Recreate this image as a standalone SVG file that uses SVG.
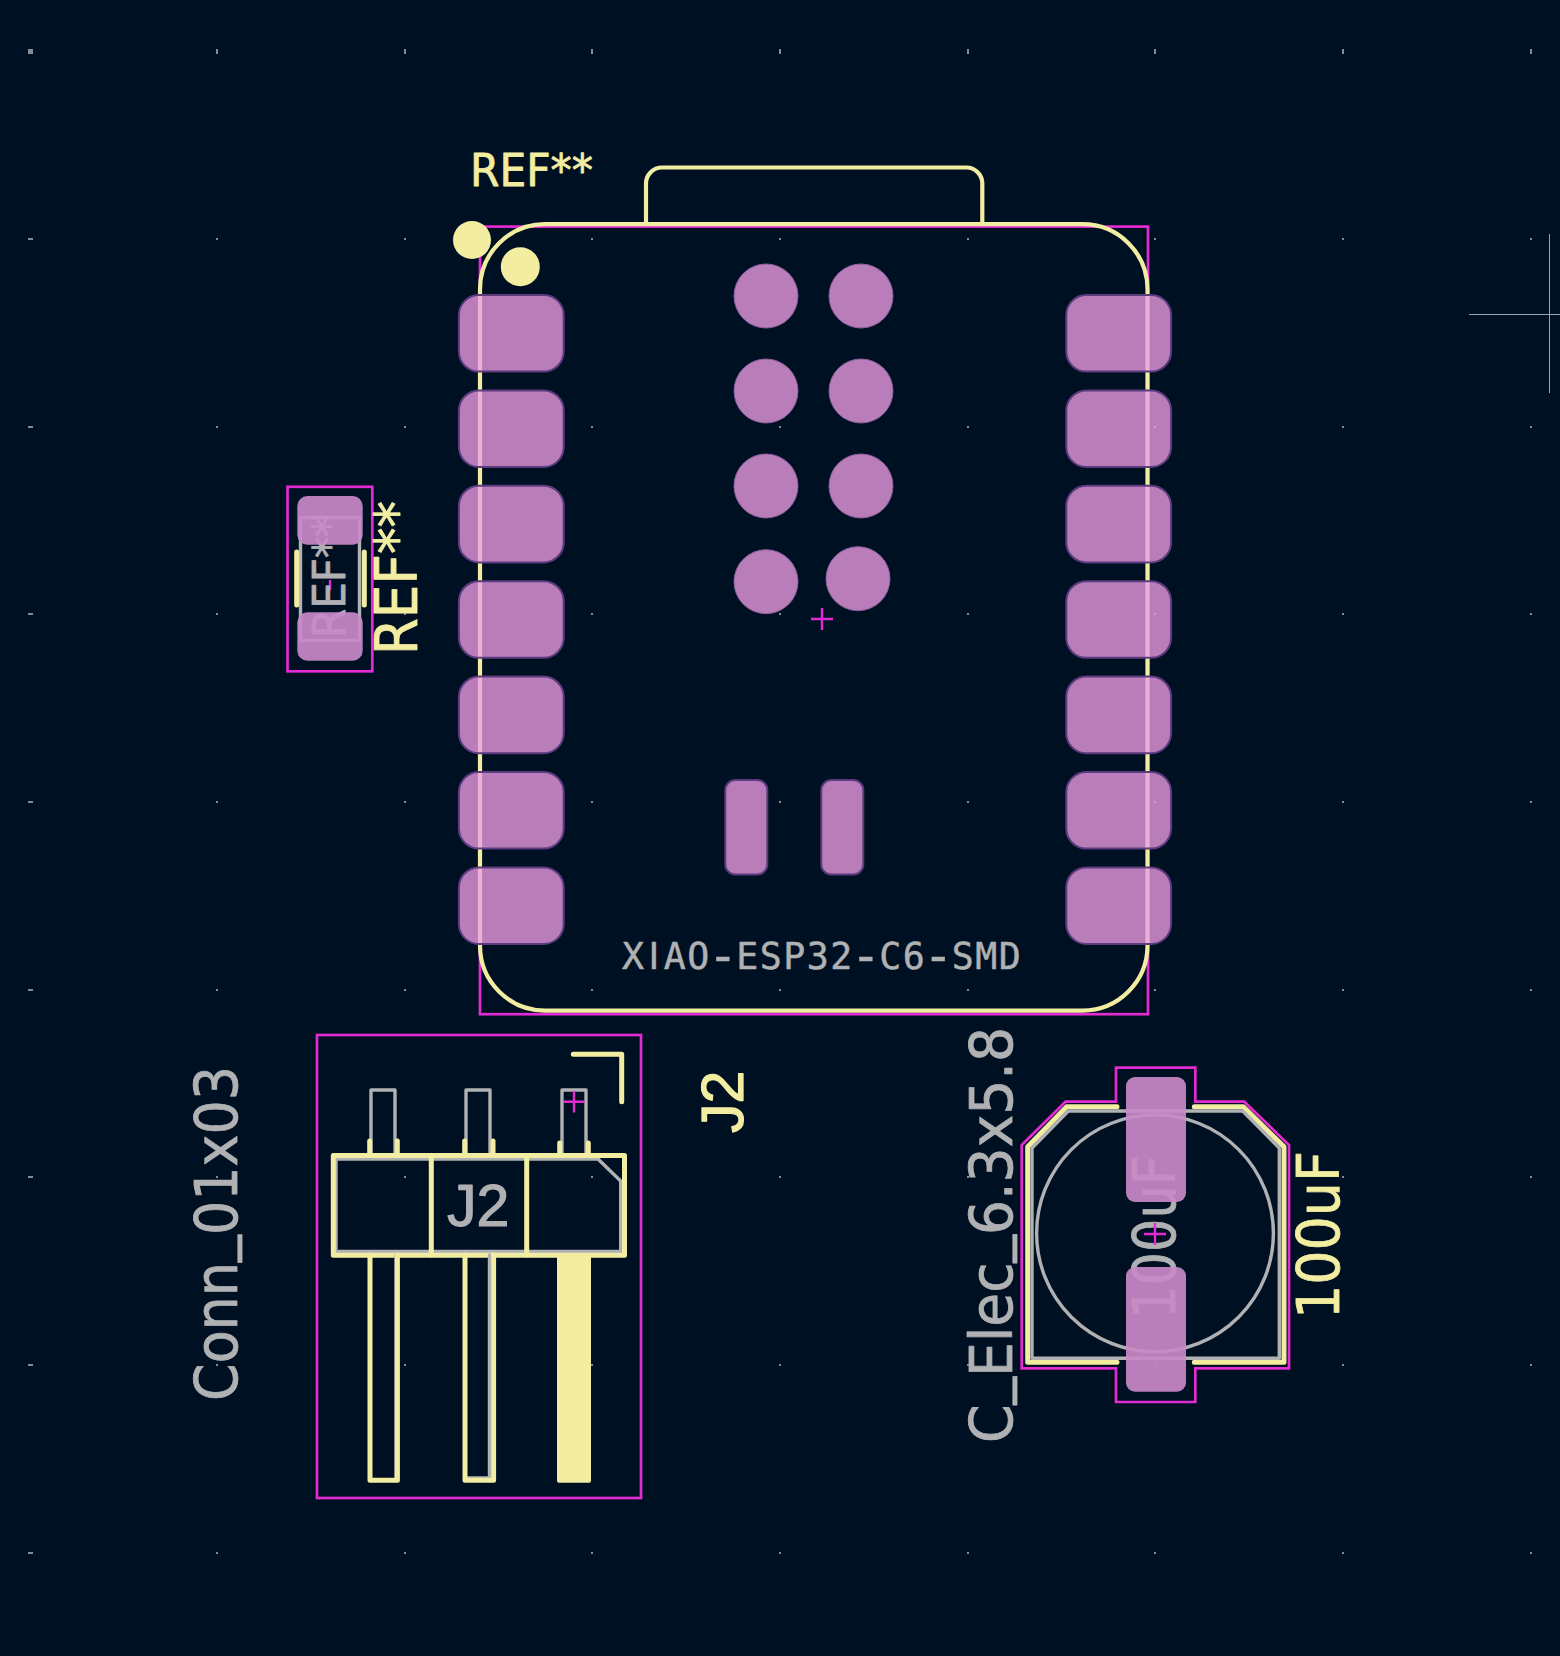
<svg xmlns="http://www.w3.org/2000/svg" width="1560" height="1656" viewBox="0 0 1560 1656">
<style>
.bg{fill:#001023}
.d{fill:#848b95}
.ctyd{fill:none;stroke:#e22bd2;stroke-width:2.7}
.silk{fill:none;stroke:#f2eda1;stroke-width:5;stroke-linecap:round;stroke-linejoin:round}
.fine{stroke-width:4.2}
.fab{fill:none;stroke:#b0b1b3;stroke-width:3.4;stroke-linecap:round;stroke-linejoin:round}
.pad{fill:#ed9ee6;fill-opacity:.78}
.padT{fill:#c989c8;fill-opacity:.92}
.edge{stroke:#5c3b7f;stroke-width:2}
.tpad{stroke:#8a5f9c;stroke-width:1}
.cross{fill:none;stroke:#e22bd2;stroke-width:2.4}
.guide{fill:none;stroke:#9aa3b0;stroke-width:1}
text{font-family:"DejaVu Sans",sans-serif;stroke-linejoin:round;stroke-width:.8}
.ty{fill:#f2eda1;stroke:#f2eda1}
.tg{fill:#b0b1b3;stroke:#b0b1b3}
.lib{font-family:"Liberation Sans",sans-serif;stroke-width:1.2}
</style>
<defs>
<rect id="padL" class="pad edge" x="-.4" y="-.3" width="104.800" height="76.600" rx="20"/>
<rect id="padS" class="pad edge" width="42" height="94.5" rx="10"/>
</defs>
<rect class="bg" width="1560" height="1656"/>
<g id="grid">
<path class="d" d="M28 49h5v5h-5zM216 49h2v5h-2zM404 49h2v5h-2zM591 49h2v5h-2zM779 49h2v5h-2zM967 49h2v5h-2zM1154 49h2v5h-2zM1342 49h2v5h-2zM1530 49h2v5h-2z"/>
<path class="d" d="M28 238h5v2h-5zM28 426h5v2h-5zM28 613h5v2h-5zM28 801h5v2h-5zM28 989h5v2h-5zM28 1176h5v2h-5zM28 1364h5v2h-5zM28 1552h5v2h-5z"/>
<path id="gridrow" class="d" d="M216 238h2v2h-2zM404 238h2v2h-2zM591 238h2v2h-2zM779 238h2v2h-2zM967 238h2v2h-2zM1154 238h2v2h-2zM1342 238h2v2h-2zM1530 238h2v2h-2z"/>
<use href="#gridrow" y="188"/><use href="#gridrow" y="375"/><use href="#gridrow" y="563"/><use href="#gridrow" y="751"/><use href="#gridrow" y="938"/><use href="#gridrow" y="1126"/><use href="#gridrow" y="1314"/>
</g>
<g id="cursor"><path class="guide" d="M1469 314.5H1560M1549.5 234V393"/></g>

<g id="U1">
<rect class="ctyd" x="480" y="226.6" width="668" height="787.6"/>
<rect class="silk fine" x="480" y="224.2" width="667.5" height="786.4" rx="65" ry="65"/>
<path class="silk fine" d="M646 224V183.500a16 16 0 0 1 16-16H966.300a16 16 0 0 1 16 16V224"/>
<circle cx="472" cy="240" r="19" fill="#f2eda1"/>
<circle cx="520.300" cy="266.700" r="19.500" fill="#f2eda1"/>
<text class="ty" transform="translate(470,185.700)" font-size="45" textLength="123" lengthAdjust="spacingAndGlyphs">REF**</text>
<text class="tg" x="622" y="969.300" font-size="36.500" letter-spacing="1.500" style="font-family:'DejaVu Sans Mono',monospace;stroke-width:.5">X<tspan dx="3" style="font-family:'DejaVu Sans',sans-serif">I</tspan><tspan dx="3">AO</tspan><tspan font-size="50" dx="-3" dy="3.500">-</tspan><tspan dx="-3" dy="-3.500">ESP32</tspan><tspan font-size="50" dx="-3" dy="3.500">-</tspan><tspan dx="-3" dy="-3.500">C6</tspan><tspan font-size="50" dx="-3" dy="3.500">-</tspan><tspan dx="-3" dy="-3.500">SMD</tspan></text>
<g id="U1-pads-left">
<use href="#padL" x="459.300" y="295.300"/><use href="#padL" x="459.300" y="390.700"/><use href="#padL" x="459.300" y="486.100"/><use href="#padL" x="459.300" y="581.500"/><use href="#padL" x="459.300" y="676.900"/><use href="#padL" x="459.300" y="772.300"/><use href="#padL" x="459.300" y="867.700"/>
</g>
<g id="U1-pads-right">
<use href="#padL" x="1066.700" y="295.300"/><use href="#padL" x="1066.700" y="390.700"/><use href="#padL" x="1066.700" y="486.100"/><use href="#padL" x="1066.700" y="581.500"/><use href="#padL" x="1066.700" y="676.900"/><use href="#padL" x="1066.700" y="772.300"/><use href="#padL" x="1066.700" y="867.700"/>
</g>
<g id="U1-holes">
<circle class="pad tpad" cx="766" cy="296" r="32"/><circle class="pad tpad" cx="861" cy="296" r="32"/>
<circle class="pad tpad" cx="766" cy="391" r="32"/><circle class="pad tpad" cx="861" cy="391" r="32"/>
<circle class="pad tpad" cx="766" cy="486" r="32"/><circle class="pad tpad" cx="861" cy="486" r="32"/>
<circle class="pad tpad" cx="766" cy="581.700" r="32"/><circle class="pad tpad" cx="858" cy="578.700" r="32"/>
</g>
<use href="#padS" x="725.300" y="780"/><use href="#padS" x="821.300" y="780"/>
<path class="cross" d="M811 619H833M822 608V630"/>
</g>

<g id="R1">
<rect class="ctyd" x="287.500" y="486.800" width="84.800" height="184.500"/>
<rect class="fab" x="300.500" y="517.500" width="59" height="123"/>
<path class="silk" d="M296.700 552V605M364.300 552V605"/>
<path class="cross" d="M330 580V590"/>
<text class="tg" transform="translate(345,638) rotate(-90)" font-size="45" textLength="122" lengthAdjust="spacingAndGlyphs">REF**</text>
<rect class="padT" x="297.300" y="496" width="65.400" height="48.700" rx="10"/>
<rect class="padT" x="297.300" y="612.300" width="65.400" height="48.400" rx="10"/>
<text class="ty" transform="translate(417.300,655) rotate(-90)" font-size="58" textLength="154" lengthAdjust="spacingAndGlyphs">REF**</text>
</g>

<g id="J2">
<rect class="ctyd" x="317" y="1035" width="324" height="463"/>
<path class="silk" d="M573.300 1054.300H621.700V1101.700"/>
<path class="fab" d="M371 1153V1090H395V1153M466 1153V1090H490V1153M562 1153V1090H586V1153"/>
<path class="silk" d="M369.700 1141V1153M397.300 1141V1153M464.700 1141V1153M493 1141V1153M559.700 1143V1153M588.300 1143V1153"/>
<path class="fab" d="M336 1159H598L620.700 1181V1251.500H336Z"/>
<rect class="silk" x="333.300" y="1155.500" width="291.200" height="99.800"/>
<path class="silk" d="M431.300 1155.500V1255M526.700 1155.500V1255"/>
<path class="fab" d="M396 1255V1478M489.500 1255V1478H465"/>
<path class="silk" d="M370 1255V1480.200H397.400V1255M465 1255V1480.200H493.600V1255"/>
<rect x="557" y="1255" width="34" height="227.700" rx="2" fill="#f2eda1"/>
<path class="cross" d="M563.500 1101.700H584.500M574 1091V1112.500"/>
<text class="tg lib" x="447" y="1225.700" font-size="59">J2</text>
<text class="ty lib" transform="translate(743.300,1133) rotate(-90)" font-size="59">J2</text>
<text class="tg" transform="translate(236.700,1401) rotate(-90)" font-size="58.500" textLength="335" lengthAdjust="spacingAndGlyphs">Conn<tspan dy="-9">_</tspan><tspan dy="9">01x03</tspan></text>
</g>

<g id="C1">
<path class="ctyd" d="M1116 1067.700H1195.300V1101.700H1244.300L1289 1145V1368.300H1195.300V1402H1116V1368.300H1021.700V1145L1065.500 1101.700H1116Z"/>
<path class="silk" d="M1117 1106.700H1066.700L1027.700 1146.700V1362.300H1117M1194.300 1106.700H1243.300L1284 1146.700V1362.300H1194.300"/>
<path class="fab" d="M1068.300 1111H1242.700L1279.300 1148V1358.300H1032V1148Z"/>
<circle class="fab" cx="1155" cy="1233.300" r="118.400"/>
<text class="tg" transform="translate(1175,1319) rotate(-90)" font-size="58.500" textLength="164" lengthAdjust="spacingAndGlyphs">100uF</text>
<rect class="padT" x="1126" y="1077" width="60" height="125" rx="9"/>
<rect class="padT" x="1126" y="1267" width="60" height="124.700" rx="9"/>
<path class="cross" d="M1144 1234H1166M1155 1223V1245"/>
<text class="ty" transform="translate(1339,1319) rotate(-90)" font-size="58.500" textLength="168" lengthAdjust="spacingAndGlyphs">100uF</text>
<text class="tg" transform="translate(1012.300,1443) rotate(-90)" font-size="58.500" textLength="416" lengthAdjust="spacingAndGlyphs">C<tspan dy="-9">_</tspan><tspan dy="9">Elec</tspan><tspan dy="-9">_</tspan><tspan dy="9">6.3x5.8</tspan></text>
</g>
</svg>
